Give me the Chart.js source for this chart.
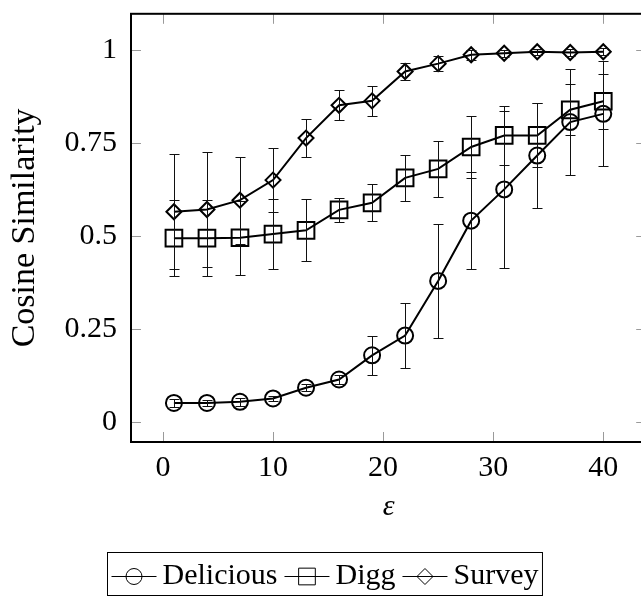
<!DOCTYPE html>
<html>
<head>
<meta charset="utf-8">
<script src="https://cdn.jsdelivr.net/npm/chart.js@4.4.1/dist/chart.umd.min.js"></script>
<style>
  html, body { margin: 0; padding: 0; background: #fff; overflow: hidden; }
  #wrap { width: 660px; height: 597px; }
</style>
</head>
<body>
<div id="wrap"><canvas id="chart" width="660" height="597"></canvas></div>
<script>
// epsilon values on the x axis
const eps = [1, 4, 7, 10, 13, 16, 19, 22, 25, 28, 31, 34, 37, 40];

const deliciousMean = [0.051, 0.051, 0.054, 0.063, 0.092, 0.114, 0.179, 0.232, 0.379, 0.541, 0.625, 0.716, 0.806, 0.828];
const deliciousErr  = [0.011, 0.009, 0.011, 0.006, 0.009, 0.011, 0.053, 0.087, 0.153, 0.131, 0.210, 0.140, 0.142, 0.141];

const diggMean = [0.494, 0.494, 0.495, 0.505, 0.515, 0.570, 0.589, 0.656, 0.680, 0.739, 0.770, 0.770, 0.839, 0.862];
const diggErr  = [0.102, 0.103, 0.100, 0.094, 0.083, 0.033, 0.050, 0.062, 0.076, 0.084, 0.080, 0.086, 0.068, 0.074];

const surveyMean = [0.565, 0.571, 0.596, 0.650, 0.763, 0.851, 0.863, 0.942, 0.963, 0.987, 0.991, 0.995, 0.993, 0.995];
const surveyErr  = [0.155, 0.154, 0.117, 0.087, 0.050, 0.040, 0.041, 0.023, 0.020, 0.013, 0.010, 0.008, 0.010, 0.010];

const xTicks = [0, 10, 20, 30, 40];
const yTicks = [0, 0.25, 0.5, 0.75, 1];

const FONT = 'Liberation Serif';
Chart.defaults.font.family = FONT;
Chart.defaults.color = '#000';

function series(label, means, errs, style, radius) {
  return {
    label,
    data: eps.map((x, i) => ({ x, y: means[i] })),
    errors: errs,
    borderColor: '#000',
    borderWidth: 2,
    pointStyle: style,
    pointRadius: radius,
    pointHoverRadius: radius,
    pointBorderWidth: 2,
    pointBorderColor: '#000',
    pointBackgroundColor: 'rgba(0,0,0,0)',
    tension: 0,
    fill: false
  };
}

// vertical error bars with caps
const errorBars = {
  id: 'errorBars',
  afterDatasetsDraw(chart) {
    const { ctx, chartArea: a, scales: { x, y } } = chart;
    ctx.save();
    ctx.beginPath(); ctx.rect(a.left, a.top, a.right - a.left, a.bottom - a.top); ctx.clip();
    ctx.strokeStyle = '#111'; ctx.lineWidth = 1;
    chart.data.datasets.forEach(ds => {
      ds.data.forEach((p, i) => {
        const e = ds.errors[i];
        const px = Math.round(x.getPixelForValue(p.x)) + 0.5;
        const y1 = Math.round(y.getPixelForValue(p.y + e)) + 0.5;
        const y2 = Math.round(y.getPixelForValue(p.y - e)) + 0.5;
        ctx.beginPath();
        ctx.moveTo(px, y1); ctx.lineTo(px, y2);
        ctx.moveTo(px - 5, y1); ctx.lineTo(px + 5, y1);
        ctx.moveTo(px - 5, y2); ctx.lineTo(px + 5, y2);
        ctx.stroke();
      });
    });
    ctx.restore();
  }
};

// pgfplots-like frame: inward grey ticks on all sides, black box
const frame = {
  id: 'frame',
  afterDraw(chart) {
    const { ctx, chartArea: a, scales: { x, y } } = chart;
    const len = 10;
    ctx.save();
    ctx.strokeStyle = '#9a9a9a'; ctx.lineWidth = 1;
    ctx.beginPath();
    xTicks.forEach(v => {
      const px = Math.round(x.getPixelForValue(v)) + 0.5;
      ctx.moveTo(px, a.bottom); ctx.lineTo(px, a.bottom - len);
      ctx.moveTo(px, a.top); ctx.lineTo(px, a.top + len);
    });
    yTicks.forEach(v => {
      const py = Math.round(y.getPixelForValue(v)) + 0.5;
      ctx.moveTo(a.left, py); ctx.lineTo(a.left + len, py);
      ctx.moveTo(a.right, py); ctx.lineTo(a.right - len, py);
    });
    ctx.stroke();
    ctx.strokeStyle = '#000'; ctx.lineWidth = 2;
    ctx.strokeRect(a.left, a.top, a.right - a.left, a.bottom - a.top);
    ctx.restore();
  }
};

// boxed legend below the axis: -o- Delicious -[]- Digg -<>- Survey
const boxLegend = {
  id: 'boxLegend',
  afterDraw(chart) {
    const { ctx } = chart;
    const seg = 45, gapText = 6, gapNext = 7, pad = 4;
    const top = 552.5, bottom = 595.5, lineY = 576.5, baseY = 584;
    ctx.save();
    ctx.font = '30px "' + FONT + '"';
    const items = chart.data.datasets.map(ds => ({ ds, w: ctx.measureText(ds.label).width }));
    let total = pad * 2;
    items.forEach((it, i) => { total += seg + gapText + it.w + (i < items.length - 1 ? gapNext : 0); });
    const cx = 324;
    let xx = Math.round(cx - total / 2) + 0.5;
    ctx.strokeStyle = '#000'; ctx.lineWidth = 1;
    ctx.strokeRect(xx, top, total, bottom - top);
    xx += pad;
    items.forEach(it => {
      ctx.strokeStyle = '#000'; ctx.lineWidth = 1;
      ctx.beginPath(); ctx.moveTo(xx, lineY); ctx.lineTo(xx + seg, lineY); ctx.stroke();
      ctx.fillStyle = 'rgba(0,0,0,0)';
      Chart.helpers.drawPoint(ctx, {
        pointStyle: it.ds.pointStyle, radius: it.ds.pointStyle === 'rectRot' ? 8 : it.ds.pointRadius,
        rotation: 0, borderWidth: 1
      }, xx + seg / 2, lineY);
      ctx.fillStyle = '#000'; ctx.textBaseline = 'alphabetic'; ctx.textAlign = 'left';
      ctx.fillText(it.ds.label, xx + seg + gapText, baseY);
      xx += seg + gapText + it.w + gapNext;
    });
    ctx.restore();
  }
};

new Chart(document.getElementById('chart'), {
  type: 'line',
  data: {
    datasets: [
      series('Delicious', deliciousMean, deliciousErr, 'circle', 8),
      series('Digg', diggMean, diggErr, 'rect', 11.8),
      series('Survey', surveyMean, surveyErr, 'rectRot', 7.5)
    ]
  },
  options: {
    responsive: false,
    animation: false,
    events: [],
    layout: { padding: { top: 11, right: 8, left: 0, bottom: 0 } },
    plugins: { legend: { display: false }, tooltip: { enabled: false } },
    scales: {
      x: {
        type: 'linear',
        min: -2.9, max: 43.9,
        grid: { display: false, drawTicks: false },
        border: { display: false },
        afterBuildTicks: s => { s.ticks = xTicks.map(v => ({ value: v })); },
        afterFit: s => { s.height = 155; s.paddingLeft = 0; s.paddingRight = 0; },
        ticks: { font: { size: 30 }, padding: 8, maxRotation: 0, callback: v => String(v) },
        title: { display: true, text: 'ε', font: { size: 30, style: 'italic' }, padding: { top: 0, bottom: 72 } }
      },
      y: {
        min: -0.054, max: 1.097,
        grid: { display: false, drawTicks: false },
        border: { display: false },
        afterBuildTicks: s => { s.ticks = yTicks.map(v => ({ value: v })); },
        afterFit: s => { s.width = 131; s.paddingTop = 0; s.paddingBottom = 0; },
        ticks: { font: { size: 30 }, padding: 14, callback: v => String(v) },
        title: { display: true, text: 'Cosine Similarity', font: { size: 34 }, padding: { top: 5, bottom: 0 } }
      }
    }
  },
  plugins: [errorBars, frame, boxLegend]
});
</script>
</body>
</html>
